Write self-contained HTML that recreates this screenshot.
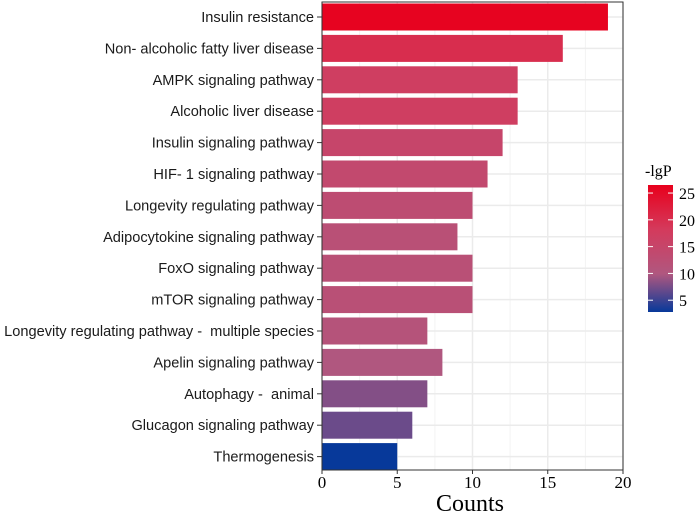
<!DOCTYPE html>
<html><head><meta charset="utf-8"><style>
body{margin:0;background:#fff}
svg{display:block}
</style></head><body>
<svg id="chart" width="700" height="514" viewBox="0 0 700 514" xmlns="http://www.w3.org/2000/svg">
<defs>
<linearGradient id="cbar" x1="0" y1="1" x2="0" y2="0">
<stop offset="0" stop-color="#07399a"/>
<stop offset="0.3" stop-color="#b0577f"/>
<stop offset="0.65" stop-color="#d43a5c"/>
<stop offset="1" stop-color="#e8001c"/>
</linearGradient>
</defs>
<g id="grid"></g>
<g id="bars"></g>
<g id="axes"></g>
<text x="470" y="511" text-anchor="middle" font-family="Liberation Serif, serif" font-size="24">Counts</text>
<g>
<text x="645" y="176" font-family="Liberation Serif, serif" font-size="16">-lgP</text>
<rect x="648" y="185" width="25" height="127" fill="url(#cbar)"/>
<g id="legticks"></g>
</g>
</svg>
<script>
const categories=["Insulin resistance","Non- alcoholic fatty liver disease","AMPK signaling pathway","Alcoholic liver disease","Insulin signaling pathway","HIF- 1 signaling pathway","Longevity regulating pathway","Adipocytokine signaling pathway","FoxO signaling pathway","mTOR signaling pathway","Longevity regulating pathway -  multiple species","Apelin signaling pathway","Autophagy -  animal","Glucagon signaling pathway","Thermogenesis"];
const counts=[19,16,13,13,12,11,10,9,10,10,7,8,7,6,5];
const lgP=[26,20,17,17,15,14,13,12,12,12,11,10,8,7,2.8];
const xTicks=[0,5,10,15,20];
const legendTicks=[5,10,15,20,25];
const NS="http://www.w3.org/2000/svg";
const L=322,R=623,T=2,B=470,y0=17,step=31.4,bh=27;
const x=v=>L+(R-L)*v/20;
const y=i=>y0+i*step;
const cmin=2.8,cmax=26.5,cTop=185,cBot=312;
const cy=v=>cBot-(v-cmin)/(cmax-cmin)*(cBot-cTop);
function hex(c){return [parseInt(c.substr(1,2),16),parseInt(c.substr(3,2),16),parseInt(c.substr(5,2),16)];}
const stops=[[0,"#07399a"],[0.3,"#b0577f"],[0.65,"#d43a5c"],[1,"#e8001c"]];
function col(v){let t=Math.max(0,Math.min(1,(v-cmin)/(cmax-cmin)));
for(let k=1;k<stops.length;k++){if(t<=stops[k][0]){const a=hex(stops[k-1][1]),b=hex(stops[k][1]);const f=(t-stops[k-1][0])/(stops[k][0]-stops[k-1][0]);return "rgb("+a.map((q,j)=>Math.round(q+(b[j]-q)*f)).join(",")+")";}}return stops[3][1];}
function el(tag,attrs,parent){const e=document.createElementNS(NS,tag);for(const k in attrs)e.setAttribute(k,attrs[k]);parent.appendChild(e);return e;}
const grid=document.getElementById("grid"),bars=document.getElementById("bars"),axes=document.getElementById("axes"),lt=document.getElementById("legticks");
el("rect",{x:L,y:T,width:R-L,height:B-T,fill:"#fff"},grid);
for(let v=2.5;v<20;v+=5){const g=el("line",{x1:x(v),x2:x(v),y1:T,y2:B,stroke:"#f3f3f3","stroke-width":1},grid);

}
xTicks.forEach(v=>{const g=el("line",{x1:x(v),x2:x(v),y1:T,y2:B,stroke:"#ebebeb","stroke-width":1.5},grid);

});
categories.forEach((c,i)=>{el("line",{x1:L,x2:R,y1:y(i),y2:y(i),stroke:"#ebebeb","stroke-width":1.5},grid);
const r=el("rect",{x:x(0),y:y(i)-bh/2,width:x(counts[i])-x(0),height:bh,fill:col(lgP[i])},bars);


const t=el("text",{x:314,y:y(i)+5,"text-anchor":"end","font-family":"Liberation Sans, sans-serif","font-size":"14.6",fill:"#1a1a1a",style:"white-space:pre"},axes);
t.textContent=c;


el("line",{x1:L-5,x2:L,y1:y(i),y2:y(i),stroke:"#333"},axes);});
el("rect",{x:L,y:T,width:R-L,height:B-T,fill:"none",stroke:"#333","stroke-width":1},axes);
xTicks.forEach(v=>{el("line",{x1:x(v),x2:x(v),y1:B,y2:B+4,stroke:"#333"},axes);
const t=el("text",{x:x(v),y:B+18,"text-anchor":"middle","font-family":"Liberation Serif, serif","font-size":"17"},axes);
t.textContent=v;

});
legendTicks.forEach(v=>{el("line",{x1:648,x2:653,y1:cy(v),y2:cy(v),stroke:"#fff"},lt);
el("line",{x1:668,x2:673,y1:cy(v),y2:cy(v),stroke:"#fff"},lt);
const t=el("text",{x:679,y:cy(v)+6,"font-family":"Liberation Serif, serif","font-size":"16"},lt);
t.textContent=v;

});
</script>
</body></html>
